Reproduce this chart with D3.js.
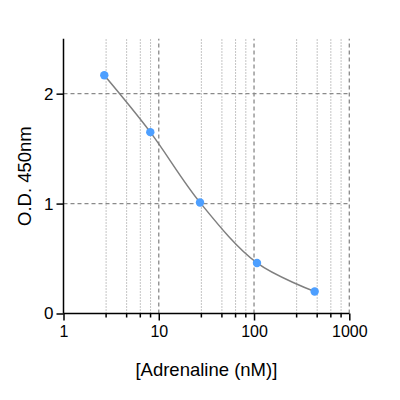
<!DOCTYPE html>
<html>
<head>
<meta charset="utf-8">
<script src="https://cdn.jsdelivr.net/npm/d3@7"></script>
<style>
html,body{margin:0;padding:0;background:#fff;}
svg{display:block;font-family:"Liberation Sans",Arial,sans-serif;}
</style>
</head>
<body>
<svg id="chart" width="400" height="400"></svg>
<script>
// Data
const concentrations = [2.68, 8.15, 27.1, 107.4, 433];
const odValues = [2.167, 1.65, 1.01, 0.46, 0.20];
const xMajorTicks = [1, 10, 100, 1000];
const xMinorTicks = [2.8, 4.6, 6.4, 8.2, 28, 46, 64, 82, 280, 460, 640, 820];
const yTicks = [0, 1, 2];
const yGridValues = [1, 2];
const xTitle = "[Adrenaline (nM)]";
const yTitle = "O.D. 450nm";

(function () {
const svg = d3.select("#chart");
const pLeft = 63.5, pRight = 349.3, pTop = 38.7, pBottom = 313.5;

const x = d3.scaleLog().domain([1, 1000]).range([pLeft, pRight]);
const y = d3.scaleLinear().domain([0, 2.5]).range([pBottom, pTop]);

const grid = svg.append("g").attr("stroke", "#8a8a8a").attr("fill", "none");
// minor vertical dotted
grid.selectAll("line.minor").data(xMinorTicks).join("line")
  .attr("class", "minor")
  .attr("x1", d => x(d)).attr("x2", d => x(d))
  .attr("y1", pBottom).attr("y2", pTop)
  .attr("stroke-width", 1).attr("stroke-dasharray", "1,2");
// major vertical dashed
grid.selectAll("line.major").data(xMajorTicks.slice(1)).join("line")
  .attr("class", "major")
  .attr("x1", d => x(d)).attr("x2", d => x(d))
  .attr("y1", pBottom).attr("y2", pTop)
  .attr("stroke-width", 1.3).attr("stroke-dasharray", "4,3");
// horizontal dashed
grid.selectAll("line.h").data(yGridValues).join("line")
  .attr("class", "h")
  .attr("x1", pLeft).attr("x2", pRight)
  .attr("y1", d => y(d)).attr("y2", d => y(d))
  .attr("stroke-width", 1.3).attr("stroke-dasharray", "4,3");

// curve
const pts = concentrations.map((c, i) => [x(c), y(odValues[i])]);
svg.append("path")
  .attr("d", d3.line().curve(d3.curveCatmullRom.alpha(0.5))(pts))
  .attr("fill", "none").attr("stroke", "#7f7f7f").attr("stroke-width", 1.5);

// X axis
const xAxis = svg.append("g").attr("transform", `translate(0,${pBottom})`);
xAxis.call(d3.axisBottom(x).tickValues(xMajorTicks).tickFormat(d3.format("d")).tickSize(7).tickPadding(5));
xAxis.append("g").selectAll("line").data(xMinorTicks).join("line")
  .attr("x1", d => x(d)).attr("x2", d => x(d)).attr("y1", 0).attr("y2", 4);
xAxis.select(".domain").attr("d", `M${pLeft},0H${pRight}`);
xAxis.selectAll("line").attr("stroke", "#000").attr("stroke-width", 1.5);
xAxis.select(".domain").attr("stroke", "#000").attr("stroke-width", 1.5);
xAxis.selectAll("text").attr("font-size", 16).attr("fill", "#000")
  .attr("font-family", "Liberation Sans, Arial, sans-serif");

// Y axis
const yAxis = svg.append("g").attr("transform", `translate(${pLeft},0)`);
yAxis.call(d3.axisLeft(y).tickValues(yTicks).tickFormat(d3.format("d")).tickSize(7).tickPadding(3));
yAxis.select(".domain").attr("d", `M0,${pTop}V${pBottom}`).attr("stroke", "#000").attr("stroke-width", 1.5);
yAxis.selectAll("line").attr("stroke", "#000").attr("stroke-width", 1.5);
yAxis.selectAll("text").attr("font-size", 17).attr("fill", "#000")
  .attr("font-family", "Liberation Sans, Arial, sans-serif");

// points
svg.append("g").selectAll("circle").data(concentrations).join("circle")
  .attr("cx", d => x(d)).attr("cy", (d, i) => y(odValues[i]))
  .attr("r", 4.2).attr("fill", "#4d9fff");

// titles
svg.append("text").attr("x", (pLeft + pRight) / 2).attr("y", 376)
  .attr("text-anchor", "middle").attr("font-size", 18.5).text(xTitle);
svg.append("text").attr("transform", `translate(31,${(pTop + pBottom) / 2}) rotate(-90)`)
  .attr("text-anchor", "middle").attr("font-size", 18.5).text(yTitle);
})();
</script>
</body>
</html>
